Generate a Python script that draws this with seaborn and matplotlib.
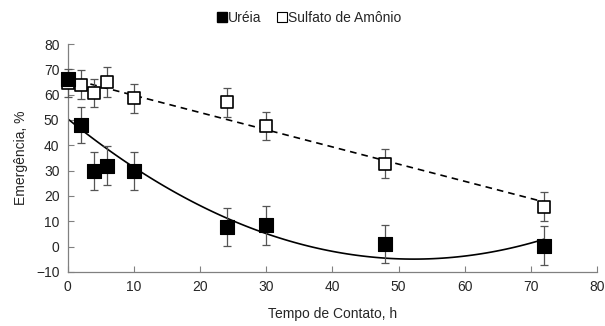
import numpy as np
import pandas as pd
import matplotlib
matplotlib.use("Agg")
import matplotlib.pyplot as plt
import seaborn as sns
from matplotlib.lines import Line2D

# Data
tempo = [0, 2, 4, 6, 10, 24, 30, 48, 72]
ureia = [66, 48, 30, 32, 30, 7.8, 8.4, 0.9, 0.4]
ureia_err = [0, 7.0, 7.5, 7.6, 7.5, 7.6, 7.6, 7.5, 7.6]
sulfato = [64.5, 64, 60.5, 65, 58.5, 57, 47.5, 32.8, 15.7]
sulfato_err = [5.5, 5.8, 5.5, 5.8, 5.6, 5.8, 5.6, 5.7, 5.7]

df = pd.DataFrame({"tempo": tempo, "ureia": ureia, "sulfato": sulfato})

sns.set_style("white")
plt.rcParams["font.family"] = ["Liberation Sans", "DejaVu Sans"]

fig = plt.figure(figsize=(6.05, 3.26), dpi=100)
ax = fig.add_axes([0.112, 0.166, 0.875, 0.699])

#Trend lines (Excel-style fits)
sns.regplot(data=df, x="tempo", y="ureia", order=2, ci=None, scatter=False,
            truncate=True, ax=ax, line_kws=dict(color="black", lw=1.2))
sns.regplot(data=df, x="tempo", y="sulfato", order=1, ci=None, scatter=False,
            truncate=True, ax=ax, line_kws=dict(color="black", lw=1.2, ls=(0, (4, 3))))

#Error bars
for yv, ye in [(ureia, ureia_err), (sulfato, sulfato_err)]:
    eb = ax.errorbar(tempo, yv, yerr=ye, fmt="none", ecolor="#555555",
                     elinewidth=0.9, capsize=3, capthick=0.9, zorder=3)
    for a in eb.lines[1] + eb.lines[2]:
        a.set_clip_on(False)

#Markers
sns.scatterplot(data=df, x="tempo", y="sulfato", marker="s", s=80, facecolor="white",
                edgecolor="black", linewidth=1.2, ax=ax, zorder=4, clip_on=False)
sns.scatterplot(data=df, x="tempo", y="ureia", marker="s", s=95, color="black",
                edgecolor="black", linewidth=0.8, ax=ax, zorder=5, clip_on=False)

ax.set_xlim(0, 80)
ax.set_ylim(-10, 80)
ax.set_xticks(range(0, 81, 10))
ax.set_yticks(range(-10, 81, 10))
ax.set_xlabel("Tempo de Contato, h", fontsize=10, labelpad=9)
ax.set_ylabel("Emergência, %", fontsize=10, labelpad=6)
ax.tick_params(direction="in", length=4, width=0.8, color="#808080",
               labelsize=10, pad=6, bottom=True, left=True)
sns.despine(ax=ax)
for s in ["left", "bottom"]:
    ax.spines[s].set_color("#808080")
    ax.spines[s].set_linewidth(0.9)

handles = [
    Line2D([], [], marker="s", ls="none", color="black", markersize=7),
    Line2D([], [], marker="s", ls="none", markerfacecolor="white",
           markeredgecolor="black", markeredgewidth=0.8, markersize=7),
]
fig.legend(handles, ["Uréia", "Sulfato de Amônio"], loc="center",
           bbox_to_anchor=(0.512, 0.945), ncol=2, frameon=False, fontsize=10,
           handlelength=0.6, handletextpad=0.1, columnspacing=1.2)

fig.savefig("out.png", dpi=100)
